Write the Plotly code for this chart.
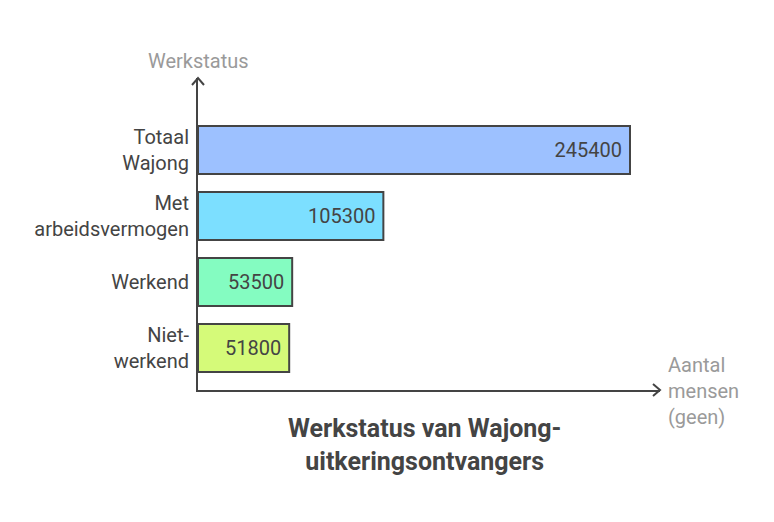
import plotly.graph_objects as go

# werkstatus van Wajong-uitkeringsontvangers (top to bottom as in the picture)
categories = ['Totaal<br>Wajong', 'Met<br>arbeidsvermogen', 'Werkend', 'Niet-<br>werkend']
values = [245400, 105300, 53500, 51800]
colors = ['#9DC1FF', '#7CDFFF', '#84FCC1', '#D5FA79']

dark = '#444444'
grey = '#9A9A9A'

fig = go.Figure(go.Bar(
    x=values[::-1], y=categories[::-1], orientation='h',
    marker=dict(color=colors[::-1], line=dict(color=dark, width=2)),
    width=0.727,
    text=[str(v) for v in values[::-1]], textposition='inside', insidetextanchor='end',
    texttemplate='%{text} ',
    textfont=dict(family='Roboto', size=20, color=dark),
    hoverinfo='skip',
))

# page body has an 8px margin, so the margins are shifted by that amount
fig.update_layout(
    width=774, height=522,
    margin=dict(l=190, r=122, t=70, b=140),
    plot_bgcolor='white', paper_bgcolor='white',
    showlegend=False,
    font=dict(family='Roboto', size=20, color=dark),
)
fig.update_xaxes(range=[0, 262440], showgrid=False, zeroline=False, showticklabels=False,
                 showline=True, linecolor=dark, linewidth=2)
fig.update_yaxes(range=[-0.636, 4.09], showgrid=False, zeroline=False,
                 showline=True, linecolor=dark, linewidth=2, ticks='',
                 ticklabelstandoff=3, tickfont=dict(family='Roboto', size=20, color=dark))

# arrow heads on the axes
fig.add_shape(type='path', xref='paper', yref='paper', xsizemode='pixel', ysizemode='pixel',
              xanchor=0, yanchor=1, path='M -6 -7 L 0 0 L 6 -7',
              line=dict(color=dark, width=2))
fig.add_shape(type='path', xref='paper', yref='paper', xsizemode='pixel', ysizemode='pixel',
              xanchor=1, yanchor=0, path='M -7 6 L 0 0 L -7 -6',
              line=dict(color=dark, width=2))

# axis titles
fig.add_annotation(text='Werkstatus', xref='paper', yref='paper', x=0, y=1, yshift=3,
                   xanchor='center', yanchor='bottom', showarrow=False,
                   font=dict(family='Roboto', size=20, color=grey))
fig.add_annotation(text='Aantal<br>mensen<br>(geen)', xref='paper', yref='paper', x=1, y=0,
                   xshift=6, yshift=-1, xanchor='left', yanchor='middle', align='left', showarrow=False,
                   font=dict(family='Roboto', size=20, color=grey))

# chart title
fig.add_annotation(text='<b>Werkstatus van Wajong-<br>uitkeringsontvangers</b>', xref='paper', yref='paper',
                   x=0.49, y=0, yshift=-22, xanchor='center', yanchor='top', showarrow=False,
                   font=dict(family='Roboto', size=25, color=dark))

fig.write_html('out.html')
